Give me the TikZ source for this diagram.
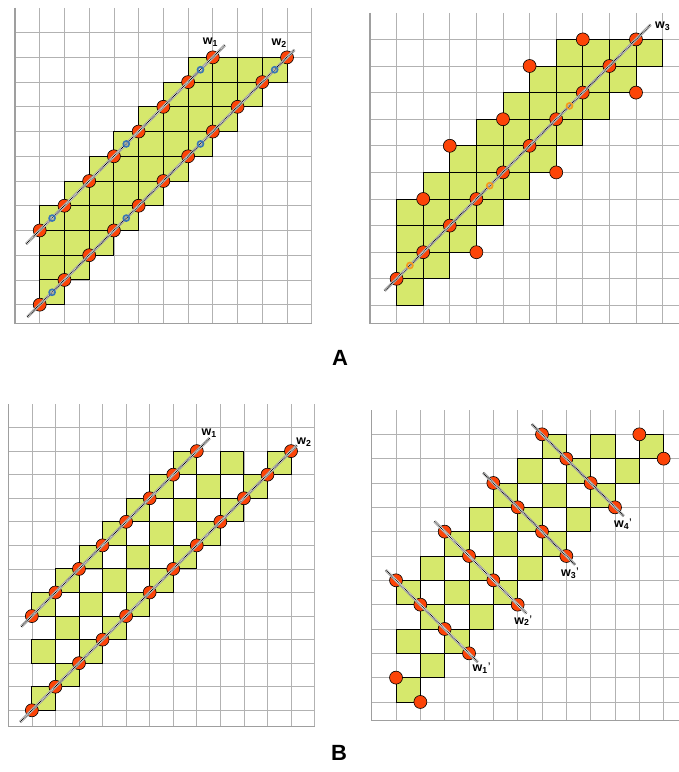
\documentclass[tikz,border=0pt]{standalone}
\usepackage{fontspec}
\setmainfont{Liberation Sans}
\usetikzlibrary{positioning}

\definecolor{cellgreen}{RGB}{214,232,108}
\definecolor{dotred}{RGB}{252,68,8}
\definecolor{ringblue}{RGB}{58,118,182}
\definecolor{ringorange}{RGB}{246,150,30}

% grid of one panel: columns, width, rows, height (in cells)
\newcommand{\panelgrid}[4]{%
  \foreach \gx in {0,...,#1} \draw[gridline] (\gx,0) -- (\gx,#4);
  \foreach \gy in {1,...,#3} \draw[gridline] (0,\gy) -- (#2,\gy);
  \draw[edgeline] (0,0) -- (0,#4) -- (#2,#4);
}

\begin{document}
\begin{tikzpicture}[
    gridline/.style={draw=gray!60, line width=0.7pt},
    edgeline/.style={draw=gray!75, line width=1.1pt},
    cell/.style={fill=cellgreen, draw=black, line width=0.9pt},
    dot/.style={circle, draw=black, fill=dotred, line width=0.6pt, minimum size=13pt, inner sep=0pt},
    ring/.style={circle, draw=#1, line width=1.6pt, minimum size=6pt, inner sep=0pt},
    wline/.style={draw=gray!75, line width=2.8pt,
      postaction={draw=white, line width=1.5pt},
      postaction={draw=black, line width=1pt, dash pattern=on 0.8pt off 0.8pt}},
    wlab/.style={font=\bfseries\fontsize{12.5}{14}\selectfont, inner sep=0pt},
    panel/.style={font=\bfseries\fontsize{22}{24}\selectfont, inner sep=0pt}
]
\useasboundingbox (0,0) rectangle (679pt,-772pt);

% Panel A, left: lines w1 and w2
\begin{scope}[shift={(15pt,-7.9pt)}, x=24.73pt, y=-24.73pt]
  \panelgrid{12}{12}{12}{12.75}
  \foreach \r in {2,...,11}{
    \pgfmathtruncatemacro{\lo}{max(1,9-\r)}
    \pgfmathtruncatemacro{\hi}{12-\r}
    \foreach \c in {\lo,...,\hi} \draw[cell] (\c,\r) rectangle ++(1,1);
  }
  \foreach \k in {0,...,7} \node[dot] (aw1-\k) at ({8-\k},{2+\k}) {};
  \foreach \k in {0,...,10} \node[dot] (aw2-\k) at ({11-\k},{2+\k}) {};
  \coordinate (aw1s) at (0.45,9.55);
  \coordinate (aw1e) at (8.5,1.5);
  \coordinate (aw2s) at (0.5,12.5);
  \coordinate (aw2e) at (11.3,1.7);
  \draw[wline] (aw1s) -- (aw1e);
  \draw[wline] (aw2s) -- (aw2e);
  \foreach \u/\v [count=\i] in {7.5/2.5,4.5/5.5,1.5/8.5,10.5/2.5,7.5/5.5,4.5/8.5,1.5/11.5}
    \node[ring=ringblue] (ab\i) at (\u,\v) {};
  \node[wlab] (aw1lab) at (7.9,1.4) {w\textsubscript{1}};
  \node[wlab] (aw2lab) at (10.68,1.42) {w\textsubscript{2}};
\end{scope}

% Panel A, right: line w3 with extra points
\begin{scope}[shift={(370pt,-12.8pt)}, x=26.6pt, y=-26.6pt]
  \panelgrid{11}{11.62}{11}{11.67}
  \foreach \r in {1,...,10}{
    \pgfmathtruncatemacro{\lo}{max(1,8-\r)}
    \pgfmathtruncatemacro{\hi}{11-\r}
    \foreach \c in {\lo,...,\hi} \draw[cell] (\c,\r) rectangle ++(1,1);
  }
  \foreach \k in {0,...,9} \node[dot] (bw3-\k) at ({10-\k},{1+\k}) {};
  \foreach \u/\v [count=\i] in {8/1,6/2,10/3,5/4,3/5,7/6,2/7,4/9}
    \node[dot] (bx\i) at (\u,\v) {};
  \coordinate (bw3s) at (0.55,10.45);
  \coordinate (bw3e) at (10.55,0.45);
  \draw[wline] (bw3s) -- (bw3e);
  \foreach \u/\v [count=\i] in {7.5/3.5,4.5/6.5,1.5/9.5}
    \node[ring=ringorange] (bo\i) at (\u,\v) {};
  \node[wlab] (bw3lab) at (11.0,0.5) {w\textsubscript{3}};
\end{scope}

% Panel B, left: checkerboard along w1 and w2
\begin{scope}[shift={(8.3pt,-404pt)}, x=23.56pt, y=-23.56pt]
  \panelgrid{13}{13}{13}{13.7}
  \foreach \s/\m in {9/8,11/10,13/12}
    \foreach \r in {2,...,\m} \draw[cell] ({\s-\r},\r) rectangle ++(1,1);
  \foreach \k in {0,...,7} \node[dot] (cw1-\k) at ({8-\k},{2+\k}) {};
  \foreach \k in {0,...,11} \node[dot] (cw2-\k) at ({12-\k},{2+\k}) {};
  \coordinate (cw1s) at (0.55,9.45);
  \coordinate (cw1e) at (8.55,1.45);
  \coordinate (cw2s) at (0.5,13.5);
  \coordinate (cw2e) at (12.25,1.75);
  \draw[wline] (cw1s) -- (cw1e);
  \draw[wline] (cw2s) -- (cw2e);
  \node[wlab] (cw1lab) at (8.53,1.24) {w\textsubscript{1}};
  \node[wlab] (cw2lab) at (12.55,1.64) {w\textsubscript{2}};
\end{scope}

% Panel B, right: four short lines w1'..w4'
\begin{scope}[shift={(371.7pt,-410pt)}, x=24.33pt, y=-24.33pt]
  \panelgrid{12}{12.63}{12}{12.77}
  \foreach \s/\m in {8/7,10/9,12/11}
    \foreach \r in {1,...,\m} \draw[cell] ({\s-\r},\r) rectangle ++(1,1);
  \foreach \n/\c/\r in {1/1/7,2/3/5,3/5/3,4/7/1}{
    \foreach \k in {0,...,3} \node[dot] (dw\n-\k) at ({\c+\k},{\r+\k}) {};
    \coordinate (dws\n) at ({\c-0.42},{\r-0.42});
    \coordinate (dwe\n) at ({\c+3.36},{\r+3.36});
    \draw[wline] (dws\n) -- (dwe\n);
  }
  \foreach \u/\v [count=\i] in {11/1,12/2,1/11,2/12}
    \node[dot] (dx\i) at (\u,\v) {};
  \node[wlab] (dw4lab) at (10.33,4.68) {w\textsubscript{4}{\mdseries'}};
  \node[wlab] (dw3lab) at (8.15,6.72) {w\textsubscript{3}{\mdseries'}};
  \node[wlab] (dw2lab) at (6.23,8.66) {w\textsubscript{2}{\mdseries'}};
  \node[wlab] (dw1lab) at (4.52,10.62) {w\textsubscript{1}{\mdseries'}};
\end{scope}

% Panel letters
\node[panel] (labA) at (340pt,-358pt) {A};
\node[panel] (labB) at (339pt,-753pt) {B};

\end{tikzpicture}
\end{document}
